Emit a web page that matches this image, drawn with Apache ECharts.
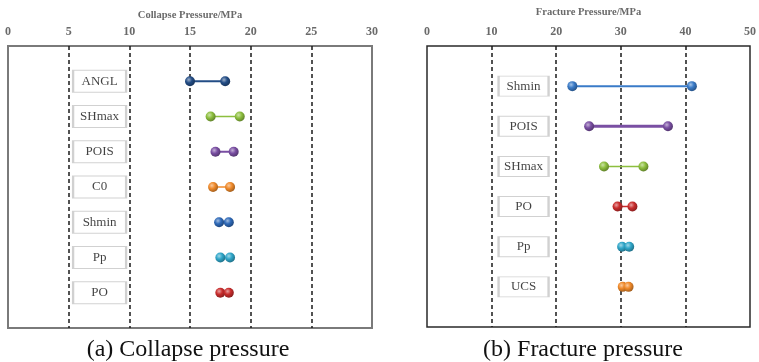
<!DOCTYPE html>
<html>
<head>
<meta charset="utf-8">
<script src="https://cdn.jsdelivr.net/npm/echarts@6/dist/echarts.min.js"></script>
<style>
html,body{margin:0;padding:0;background:#fff;}
#chart{width:759px;height:362px;}
</style>
</head>
<body>
<div id="chart"></div>
<script>
// ---- data ----
const collapseCategories = ['ANGL', 'SHmax', 'POIS', 'C0', 'Shmin', 'Pp', 'PO'];
const collapseLow  = [15.0, 16.7, 17.1, 16.9, 17.4, 17.5, 17.5];
const collapseHigh = [17.9, 19.1, 18.6, 18.3, 18.2, 18.3, 18.2];

const fractureCategories = ['Shmin', 'POIS', 'SHmax', 'PO', 'Pp', 'UCS'];
const fractureLow  = [22.5, 25.1, 27.4, 29.5, 30.2, 30.3];
const fractureHigh = [41.0, 37.3, 33.5, 31.8, 31.3, 31.2];

const collapseAxisTitle = 'Collapse Pressure/MPa';
const fractureAxisTitle = 'Fracture Pressure/MPa';
const captionA = '(a) Collapse pressure';
const captionB = '(b) Fracture pressure';

// ---- styles ----
const collapseColors = ['#234d86', '#8dbf3e', '#7a4fa3', '#f08a2a', '#2e69b8', '#2fa6c9', '#c92d2d'];
const collapseWidths = [2, 1.5, 2, 1.5, 1.5, 1.5, 1.5];
const fractureColors = ['#3a7bc8', '#7a4fa3', '#8dbf3e', '#c92d2d', '#2fa6c9', '#f08a2a'];
const fractureWidths = [2, 3, 1.5, 1.5, 1.5, 1.5];

function shade(hex, f) {
  const n = parseInt(hex.slice(1), 16);
  let r = (n >> 16) & 255, g = (n >> 8) & 255, b = n & 255;
  if (f > 0) { r += (255 - r) * f; g += (255 - g) * f; b += (255 - b) * f; }
  else { r *= (1 + f); g *= (1 + f); b *= (1 + f); }
  return 'rgb(' + Math.round(r) + ',' + Math.round(g) + ',' + Math.round(b) + ')';
}
function sphere(c) {
  return {
    type: 'radial', x: 0.38, y: 0.35, r: 0.7,
    colorStops: [
      { offset: 0, color: shade(c, 0.55) },
      { offset: 0.45, color: c },
      { offset: 1, color: shade(c, -0.35) }
    ]
  };
}

const serif = '"Liberation Serif", "Times New Roman", serif';

function buildDumbbells(cats, lo, hi, colors, widths, gi) {
  return cats.map((c, i) => ({
    type: 'line',
    name: c,
    xAxisIndex: gi, yAxisIndex: gi,
    data: [[lo[i], i + 1], [hi[i], i + 1]],
    symbol: 'circle',
    symbolSize: 10,
    showSymbol: true,
    lineStyle: { color: colors[i], width: widths[i] },
    itemStyle: { color: sphere(colors[i]), borderWidth: 0 },
    z: 5,
    silent: true,
    animation: false
  }));
}

function buildLabelBoxes(cats, xPos, size, gi) {
  return {
    type: 'scatter',
    xAxisIndex: gi, yAxisIndex: gi,
    data: cats.map((c, i) => ({ value: [xPos, i + 1], name: c })),
    symbol: 'rect',
    symbolSize: size,
    itemStyle: { color: '#ffffff', borderColor: '#c6c6c6', borderWidth: 1.5 },
    label: {
      show: true, position: 'inside',
      formatter: p => p.name,
      fontFamily: serif, fontSize: 13, color: '#111'
    },
    z: 4, silent: true, animation: false
  };
}

function gridLinesSeries(values, gi) {
  return {
    type: 'line',
    xAxisIndex: gi, yAxisIndex: gi,
    data: [],
    silent: true,
    markLine: {
      silent: true, symbol: 'none', animation: false,
      label: { show: false },
      lineStyle: { color: '#1a1a1a', type: [4, 3], width: 1.5 },
      data: values.map(v => ({ xAxis: v }))
    }
  };
}

const axisLabelStyle = { fontFamily: serif, fontSize: 12, fontWeight: 'bold', color: '#6a6a6a' };

const option = {
  backgroundColor: '#ffffff',
  animation: false,
  title: [
    { text: captionA, left: 183, top: 333, textAlign: 'center',
      textStyle: { fontFamily: serif, fontSize: 24, fontWeight: 'normal', color: '#111' } },
    { text: captionB, left: 578, top: 333, textAlign: 'center',
      textStyle: { fontFamily: serif, fontSize: 24, fontWeight: 'normal', color: '#111' } }
  ],
  grid: [
    { left: 8, right: 387, top: 46, bottom: 34, show: true, borderColor: '#7a7a7a', borderWidth: 2, backgroundColor: 'transparent' },
    { left: 427, right: 9, top: 46, bottom: 35, show: true, borderColor: '#2a2a2a', borderWidth: 1.5, backgroundColor: 'transparent' }
  ],
  xAxis: [
    { type: 'value', gridIndex: 0, position: 'top', min: 0, max: 30, interval: 5,
      name: collapseAxisTitle, nameLocation: 'middle', nameGap: 25,
      nameTextStyle: { fontFamily: serif, fontSize: 10.5, fontWeight: 'bold', color: '#6a6a6a' },
      axisLine: { show: false }, axisTick: { show: false }, splitLine: { show: false },
      axisLabel: Object.assign({ margin: 8 }, axisLabelStyle) },
    { type: 'value', gridIndex: 1, position: 'top', min: 0, max: 50, interval: 10,
      name: fractureAxisTitle, nameLocation: 'middle', nameGap: 28,
      nameTextStyle: { fontFamily: serif, fontSize: 10.5, fontWeight: 'bold', color: '#6a6a6a' },
      axisLine: { show: false }, axisTick: { show: false }, splitLine: { show: false },
      axisLabel: Object.assign({ margin: 8 }, axisLabelStyle) }
  ],
  yAxis: [
    { type: 'value', gridIndex: 0, min: 0, max: 8, inverse: true, show: false, splitLine: { show: false } },
    { type: 'value', gridIndex: 1, min: 0, max: 7, inverse: true, show: false, splitLine: { show: false } }
  ],
  series: [
    gridLinesSeries([5, 10, 15, 20, 25], 0),
    gridLinesSeries([10, 20, 30, 40], 1),
    buildLabelBoxes(collapseCategories, 7.55, [53, 22], 0),
    buildLabelBoxes(fractureCategories, 14.95, [50, 20], 1),
    ...buildDumbbells(collapseCategories, collapseLow, collapseHigh, collapseColors, collapseWidths, 0),
    ...buildDumbbells(fractureCategories, fractureLow, fractureHigh, fractureColors, fractureWidths, 1)
  ]
};

const chart = echarts.init(document.getElementById('chart'), null, { renderer: 'canvas' });
chart.setOption(option);
</script>
</body>
</html>
